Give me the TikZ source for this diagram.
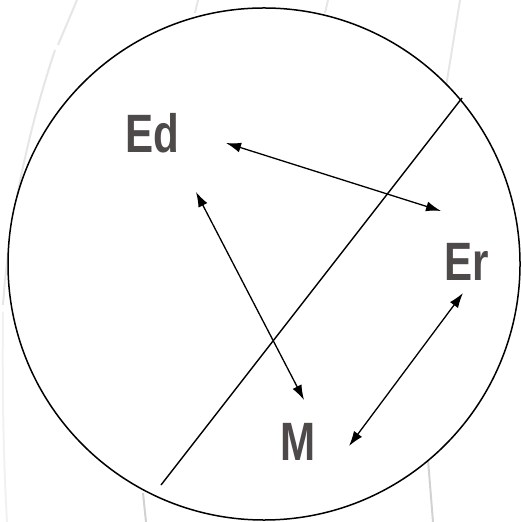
\documentclass[tikz,border=0pt]{standalone}
\usepackage{fontspec}
\setmainfont{Liberation Sans}
\newfontfamily\labfont[FakeStretch=0.78]{Liberation Sans}
\usepackage{xcolor}
\usepackage{tikz}
\usetikzlibrary{arrows.meta}
\definecolor{lbl}{HTML}{4E4A4A}
\definecolor{faint}{HTML}{E6E6E6}

\begin{document}
\begin{tikzpicture}[x=0.5pt, y=-0.5pt, >={Latex[length=7.5pt,width=5pt]},
  lab/.style={inner sep=0pt, text=lbl, font=\labfont\fontsize{27}{30}\selectfont\bfseries},
  link/.style={<->, line width=0.65pt},
  bg/.style={draw=faint, line width=1pt}]
\useasboundingbox (0,0) rectangle (520,522);
\draw[bg] (77,0) -- (58,45);
\draw[bg] (55,50) .. controls (25,140) and (8,230) .. (3,305);
\draw[bg, draw=faint!80!black!20] (3,312) .. controls (2,400) and (4,470) .. (7,522);
\draw[bg] (198,0) -- (195,13);
\draw[bg] (328,0) -- (325,13);
\draw[bg] (460,0) -- (445,93);
\draw[bg, draw=gray!35] (143,493) -- (146,522);
\draw[bg, draw=gray!35] (428,460) -- (433,522);
\fill[white] (264,264) circle[radius=128pt];
\node[circle, draw, line width=0.75pt, minimum size=256pt, inner sep=0pt] (cell) at (264,264) {};
\node[lab] (Ed) at (152,133) {Ed};
\node[lab] (Er) at (467,262) {Er};
\node[lab] (M) at (298,442) {M};
\coordinate (top) at (462,98);
\coordinate (bot) at (161,485);
\draw[line width=0.7pt] (top) -- (bot);
\coordinate (EdA) at (226,143);
\coordinate (ErA) at (441,211);
\coordinate (EdB) at (196,192);
\coordinate (MB) at (304,400);
\coordinate (ErC) at (463,293);
\coordinate (MC) at (349,446);
\draw[link] (EdA) -- (ErA);
\draw[link] (EdB) -- (MB);
\draw[link] (ErC) -- (MC);
\end{tikzpicture}
\end{document}
